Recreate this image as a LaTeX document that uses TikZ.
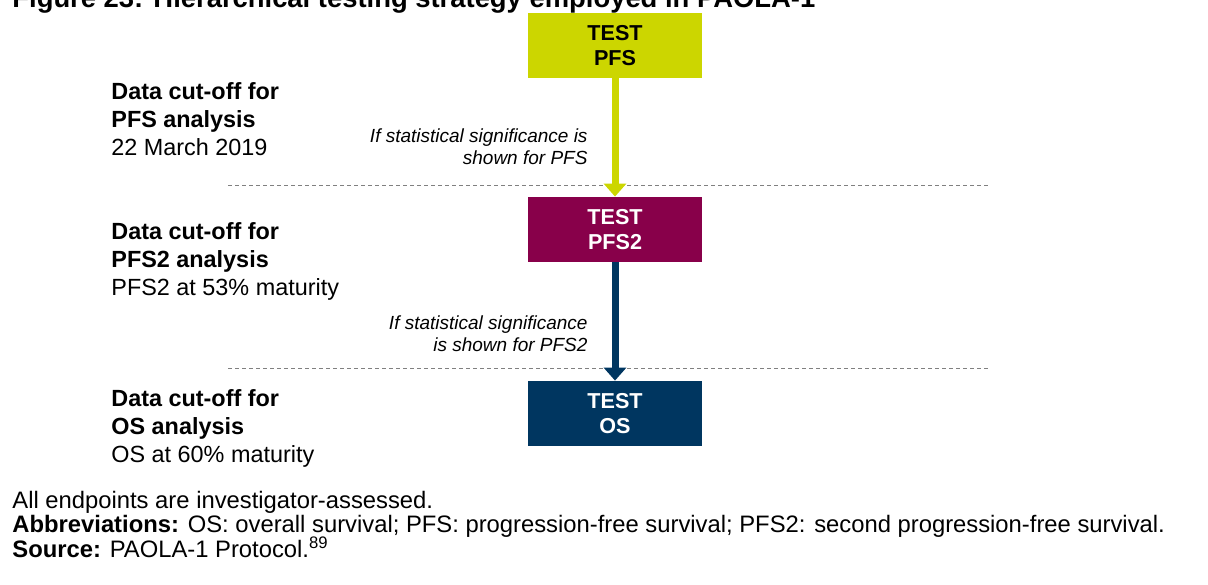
\documentclass[tikz,border=0pt]{standalone}
\usepackage{fontspec}
\setmainfont{Liberation Sans}
\usetikzlibrary{positioning,arrows.meta}
\definecolor{pfsgreen}{RGB}{204,214,0}
\definecolor{pfsred}{RGB}{136,0,74}
\definecolor{osblue}{RGB}{0,54,96}
\begin{document}
\begin{tikzpicture}[x=0.5pt, y=-0.5pt, node distance=92pt, auto,
    testbox/.style={minimum width=87pt, minimum height=32.5pt, inner sep=0pt, align=center,
      font=\bfseries\fontsize{10.8}{12.5}\selectfont},
    cutoff/.style={anchor=base west, inner sep=0pt, align=left, font=\fontsize{11.7}{14}\selectfont},
    sig/.style={align=right, inner sep=0pt, font=\itshape\fontsize{9.5}{11}\selectfont},
    flow/.style={line width=3.5pt, -{Triangle[width=11pt,length=6.5pt]}}]
    \useasboundingbox (0,0) rectangle (1208,584);
    \node[anchor=base west, inner sep=0pt, font=\bfseries\fontsize{13.7}{16}\selectfont] (title) at (12,7)
        {Figure 23: Hierarchical testing strategy employed in PAOLA-1};
    \draw[gray, line width=0.5pt, dash pattern=on 2pt off 1.5pt] (228,185) -- (988,185);
    \draw[gray, line width=0.5pt, dash pattern=on 2pt off 1.5pt] (228,368) -- (988,368);
    \node[testbox, fill=pfsgreen] (PFS) at (615,45.5) {TEST\\PFS};
    \node[testbox, fill=pfsred, text=white, below of=PFS] (PFS2) {TEST\\PFS2};
    \node[testbox, fill=osblue, text=white, below of=PFS2] (OS) {TEST\\OS};
    \draw[flow, pfsgreen](PFS) to node [sig, pos=0.58, left=12pt, text=black] {If statistical significance is\\shown for PFS}(PFS2);
    \draw[flow, osblue](PFS2) to node [sig, pos=0.6, left=12pt, text=black] {If statistical significance\\is shown for PFS2}(OS);
    \node[cutoff] (cutPFS) at (111,155) {\textbf{Data cut-off for}\\\textbf{PFS analysis}\\22 March 2019};
    \node[cutoff] (cutPFS2) at (111,295) {\textbf{Data cut-off for}\\\textbf{PFS2 analysis}\\PFS2 at 53\% maturity};
    \node[cutoff] (cutOS) at (111,462) {\textbf{Data cut-off for}\\\textbf{OS analysis}\\OS at 60\% maturity};
    \node[anchor=base west, inner sep=0pt, align=left,
        font={\fontsize{11.9}{12.25}\selectfont\lineskiplimit=-10pt\relax}] (notes) at (12,557)
        {All endpoints are investigator-assessed.\\
         \textbf{Abbreviations:} OS: overall survival; PFS: progression-free survival; PFS2: second progression-free survival.\\
         \textbf{Source:} PAOLA-1 Protocol.\textsuperscript{89}};
\end{tikzpicture}
\end{document}
